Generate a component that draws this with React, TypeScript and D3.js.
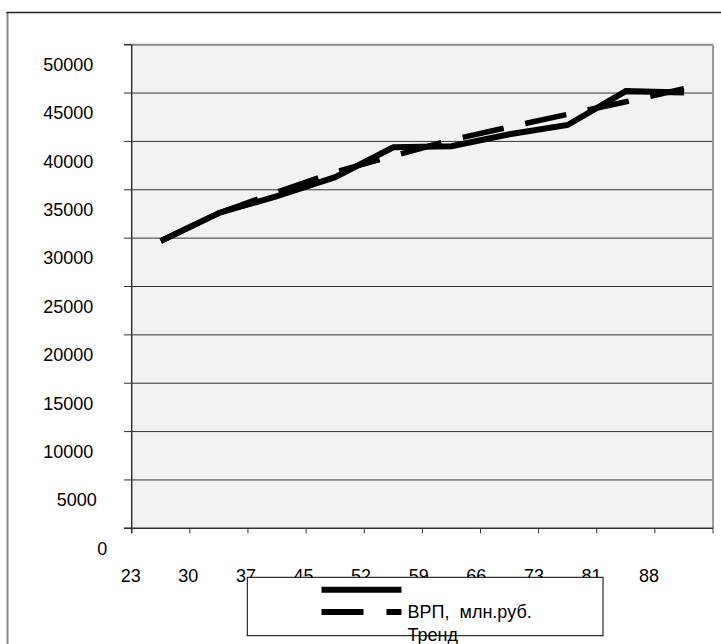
import React from 'react';
import * as d3 from 'd3';

const categories = ['1', '2', '3', '4', '5', '6', '7', '8', '9', '10'];
const vrp = [29700, 32600, 34350, 36300, 39400, 39500, 40750, 41700, 45200, 45050];
const trend = [29700, 32600, 34750, 36850, 38500, 40150, 41500, 42800, 44100, 45450];
const xTickLabels = ['23', '30', '37', '45', '52', '59', '66', '73', '81', '88'];
const yTicks = [0, 5000, 10000, 15000, 20000, 25000, 30000, 35000, 40000, 45000, 50000];
const seriesNames = ['ВРП,  млн.руб.', 'Тренд'];

const W = 721, H = 644;
const plot = { left: 131.7, right: 713, top: 44.7, bottom: 528.3 };
const font = '"Liberation Sans", Arial, sans-serif';

export default function App() {
  const x = d3.scaleBand<string>().domain(categories).range([plot.left, plot.right]).padding(0);
  const y = d3.scaleLinear().domain([0, 50000]).range([plot.bottom, plot.top]);
  const xLab = d3.scalePoint<string>().domain(xTickLabels).range([130.7, 649.1]);
  const cx = (c: string) => (x(c) as number) + x.bandwidth() / 2;
  const line = d3.line<number>().x((_, i) => cx(categories[i])).y((d) => y(d));
  const tickX = categories.map((c) => x(c) as number).concat([plot.right]);
  const labelRight = (s: string) => 93.3 + (5 - s.length) * 3.5;

  return (
    <svg width={W} height={H} style={{ position: 'absolute', left: 0, top: 0, background: '#fff' }}>
      {/* outer frame */}
      <line x1={7.5} y1={12} x2={7.5} y2={H} stroke="#888" strokeWidth={2} />
      <line x1={6.5} y1={12.5} x2={W} y2={12.5} stroke="#222" strokeWidth={1.5} />
      {/* plot area */}
      <rect x={plot.left} y={plot.top} width={plot.right - plot.left} height={plot.bottom - plot.top} fill="#f2f2f2" />
      {yTicks.filter((t) => t > 0 && t < 50000).map((t) => (
        <line key={t} x1={plot.left} x2={plot.right} y1={y(t)} y2={y(t)} stroke="#333" strokeWidth={1} />
      ))}
      <line x1={124} x2={plot.right} y1={plot.top} y2={plot.top} stroke="#888" strokeWidth={2} />
      <line x1={plot.right} x2={plot.right} y1={plot.top} y2={plot.bottom} stroke="#999" strokeWidth={2} />
      {/* y axis */}
      <line x1={plot.left} x2={plot.left} y1={plot.top} y2={plot.bottom + 5} stroke="#333" strokeWidth={1.5} />
      {yTicks.map((t) => (
        <line key={'yt' + t} x1={124} x2={plot.left} y1={y(t)} y2={y(t)} stroke="#333" strokeWidth={1} />
      ))}
      {yTicks.map((t) => (
        <text key={'yl' + t} x={labelRight(String(t))} y={y(t) + 26.3} textAnchor="end" fontFamily={font} fontSize={18} fill="#000">
          {String(t)}
        </text>
      ))}
      {/* x axis */}
      <line x1={124} x2={plot.right} y1={plot.bottom} y2={plot.bottom} stroke="#333" strokeWidth={1.5} />
      {tickX.map((tx, i) => (
        <line key={'xt' + i} x1={tx} x2={tx} y1={plot.bottom} y2={plot.bottom + 5} stroke="#333" strokeWidth={1} />
      ))}
      {xTickLabels.map((l) => (
        <text key={'xl' + l} x={xLab(l)} y={581.5} textAnchor="middle" fontFamily={font} fontSize={18} fill="#000">
          {l}
        </text>
      ))}
      {/* series */}
      <path d={line(trend) || ''} fill="none" stroke="#000" strokeWidth={5.5} strokeDasharray="42 22" />
      <path d={line(vrp) || ''} fill="none" stroke="#000" strokeWidth={6} strokeLinejoin="miter" />
      {/* legend */}
      <rect x={247.3} y={577.3} width={355.7} height={58.4} fill="#fff" stroke="#000" strokeWidth={1} />
      <line x1={321.5} x2={401.5} y1={589.7} y2={589.7} stroke="#000" strokeWidth={6} />
      <line x1={321.5} x2={401.5} y1={612} y2={612} stroke="#000" strokeWidth={6} strokeDasharray="42 23" />
      <text x={407.6} y={618.3} fontFamily={font} fontSize={18} fill="#000" style={{ whiteSpace: 'pre' }}>
        {seriesNames[0]}
      </text>
      <text x={407.6} y={641.3} fontFamily={font} fontSize={18} fill="#000">
        {seriesNames[1]}
      </text>
    </svg>
  );
}
